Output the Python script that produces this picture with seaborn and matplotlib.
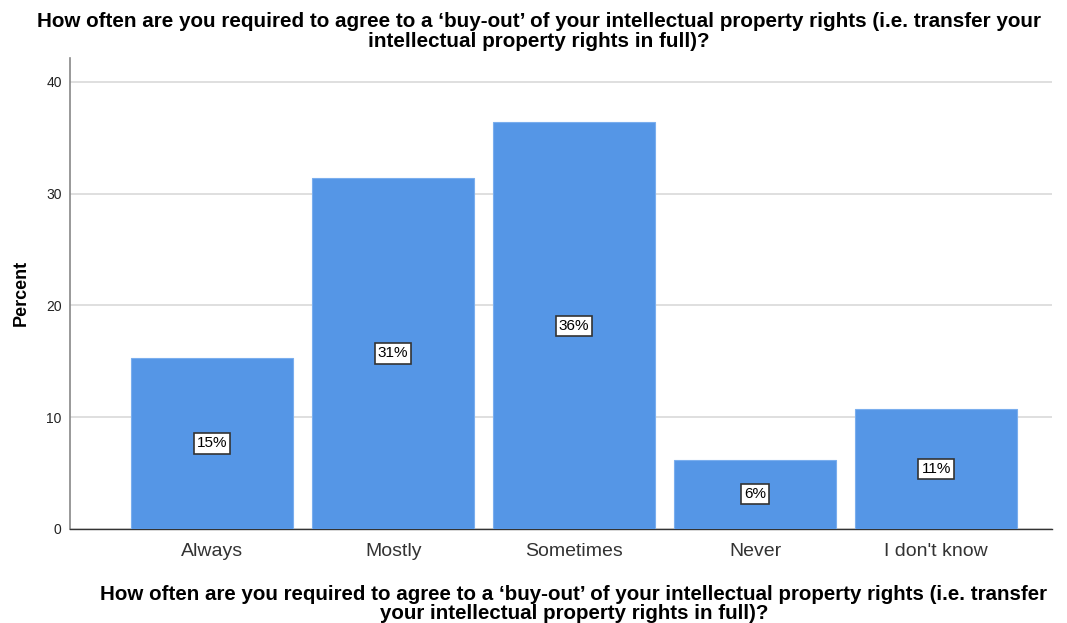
import matplotlib.pyplot as plt
import pandas as pd
import seaborn as sns

categories = ["Always", "Mostly", "Sometimes", "Never", "I don't know"]
percents = [15.3, 31.4, 36.4, 6.2, 10.7]
labels = ["15%", "31%", "36%", "6%", "11%"]

question = ("How often are you required to agree to a \u2018buy-out\u2019 of your intellectual property rights "
            "(i.e. transfer your\nintellectual property rights in full)?")
xlabel = ("How often are you required to agree to a \u2018buy-out\u2019 of your intellectual property rights "
          "(i.e. transfer\nyour intellectual property rights in full)?")

sns.set_style("white")
plt.rcParams["font.family"] = ["Liberation Sans", "DejaVu Sans"]

df = pd.DataFrame({"Category": categories, "Percent": percents})

fig = plt.figure(figsize=(10.67, 6.23), dpi=100)
ax = fig.add_axes([0.0656, 0.151, 0.9204, 0.756])

sns.barplot(data=df, x="Category", y="Percent", order=categories, color="#5596e6",
            saturation=1, width=0.895, edgecolor="#7aaeee", linewidth=0.8, ax=ax, zorder=3)

for i, (v, lab) in enumerate(zip(percents, labels)):
    ax.text(i, v / 2, lab, ha="center", va="center", fontsize=11, color="black", zorder=4,
            bbox=dict(boxstyle="square,pad=0.2", facecolor="white", edgecolor="#333333", linewidth=1.2))

ax.set_xlim(-0.785, 4.64)
ax.set_ylim(0, 42.15)
ax.set_yticks([0, 10, 20, 30, 40])
ax.yaxis.grid(True, color="#d9d9d9", linewidth=1.2, zorder=0)
ax.set_axisbelow(True)

for side in ["top", "right"]:
    ax.spines[side].set_visible(False)
ax.spines["left"].set_color("#888888")
ax.spines["left"].set_linewidth(1.2)
ax.spines["bottom"].set_color("#333333")
ax.spines["bottom"].set_linewidth(1.0)

ax.tick_params(axis="y", labelsize=10, length=0, pad=6, colors="#222222")
ax.tick_params(axis="x", labelsize=14, length=0, pad=10, colors="#333333")

ax.set_ylabel("Percent", fontsize=13, fontweight="bold", labelpad=12, color="black")
ax.set_xlabel(xlabel, fontsize=14.8, fontweight="bold", linespacing=1.05, color="black")
ax.xaxis.set_label_coords(0.513, -0.118, transform=ax.transAxes)
fig.text(0.505, 0.98, question, ha="center", va="top", fontsize=14.85, fontweight="bold",
         linespacing=1.05, color="black")

fig.savefig("out.png", dpi=100)
